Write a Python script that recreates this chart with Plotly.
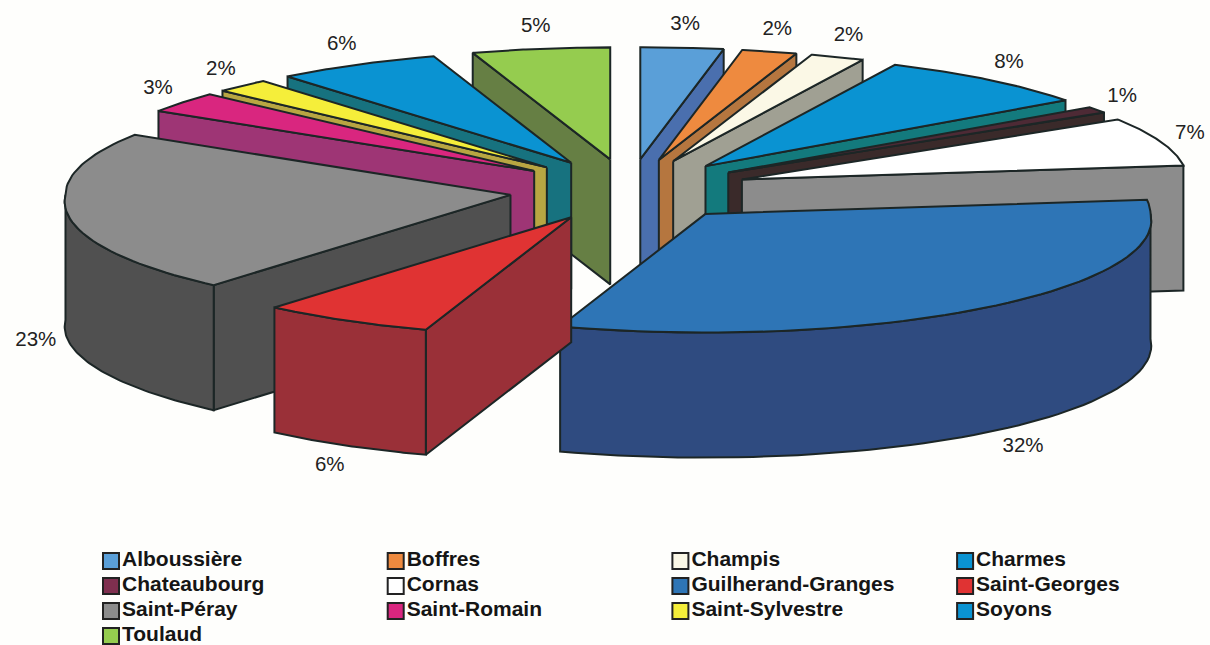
import numpy as np
import plotly.graph_objects as go

# ---------- data ----------
communes = ["Alboussière", "Boffres", "Champis", "Charmes", "Chateaubourg", "Cornas",
            "Guilherand-Granges", "Saint-Georges", "Saint-Péray", "Saint-Romain",
            "Saint-Sylvestre", "Soyons", "Toulaud"]
percent = [3, 2, 2, 8, 1, 7, 32, 6, 23, 3, 2, 6, 5]
legend_colors = ["#5a9fd8", "#ee8a3f", "#fbf8e6", "#0a93d2", "#7f2f4f", "#ffffff",
                 "#2e75b6", "#e03333", "#8c8c8c", "#d9267f", "#f5ee3a", "#0a93d2", "#95cc4f"]
top_colors = ["#5a9fd8", "#ee8a3f", "#fbf8e6", "#0a93d2", "#4d2a35", "#ffffff",
              "#2e75b6", "#e03333", "#8c8c8c", "#d9267f", "#f5ee3a", "#0a93d2", "#95cc4f"]
side_colors = ["#4a6fae", "#b5763f", "#a0a093", "#137a7d", "#3a2a2a", "#8c8c8c",
               "#2f4b80", "#9a3038", "#505050", "#9e3575", "#b8a642", "#17727f", "#667f44"]

# ---------- pie geometry (pixel-scaled hidden axes) ----------
CX, CY = 629, 190
RX, RY = 445, 112
EX, EY = 120, 31
DEPTH = 125
PERSP = 0.06
OUTLINE = "#1c2626"

cum = np.cumsum([0] + percent) / sum(percent) * 2 * np.pi
fig = go.Figure()


def poly(xs, ys, fill):
    fig.add_trace(go.Scatter(x=list(xs) + [xs[0]], y=list(ys) + [ys[0]], mode="lines",
                             fill="toself", fillcolor=fill,
                             line=dict(color=OUTLINE, width=2),
                             hoverinfo="skip", showlegend=False))


slices = []
for i, p in enumerate(percent):
    a, b = cum[i], cum[i + 1]
    m = (a + b) / 2
    ox = CX + EX * np.sin(m)
    oy = CY - EY * np.cos(m)
    slices.append((oy, i, a, b, m, ox))

lab_x, lab_y, lab_t = [], [], []
for oy, i, a, b, m, ox in sorted(slices, key=lambda s: s[0]):
    def edge(t, ox=ox, oy=oy):
        s = 1 + PERSP * np.maximum(0, -np.cos(t))
        return ox + RX * s * np.sin(t), oy - RY * s * np.cos(t)
    # radial side faces
    if np.sin(a) < 0:
        ex, ey = edge(a)
        poly([ox, ex, ex, ox], [oy, ey, ey + DEPTH, oy + DEPTH], side_colors[i])
    if np.sin(b) > 0:
        ex, ey = edge(b)
        poly([ox, ex, ex, ox], [oy, ey, ey + DEPTH, oy + DEPTH], side_colors[i])
    # outer curved side
    lo, hi = max(a, np.pi / 2), min(b, 3 * np.pi / 2)
    if hi > lo:
        t = np.linspace(lo, hi, 60)
        ax, ay = edge(t)
        poly(np.r_[ax, ax[::-1]], np.r_[ay, ay[::-1] + DEPTH], side_colors[i])
    # top face
    t = np.linspace(a, b, 60)
    ax, ay = edge(t)
    poly(np.r_[ox, ax], np.r_[oy, ay], top_colors[i])
    # percent label
    front = DEPTH if np.pi / 2 < m < 3 * np.pi / 2 else 0
    s = 1 + PERSP * max(0, -np.cos(m))
    lab_x.append(ox + 1.07 * RX * s * np.sin(m))
    lab_y.append(oy - 1.2 * RY * s * np.cos(m) + front)
    lab_t.append(f"{percent[i]}%")

fig.add_trace(go.Scatter(x=lab_x, y=lab_y, text=lab_t, mode="text",
                         textfont=dict(family="Liberation Sans", size=20.5, color="#222222"),
                         hoverinfo="skip", showlegend=False))

# ---------- legend drawn on the same axes ----------
COLS, X0, DX, Y0, DY = 4, 111, 284.7, 561, 25
for i, name in enumerate(communes):
    r, c = divmod(i, COLS)
    fig.add_trace(go.Scatter(x=[X0 + c * DX], y=[Y0 + r * DY], text=[name],
                             mode="markers+text", textposition="middle right",
                             marker=dict(symbol="square", size=16, color=legend_colors[i],
                                         line=dict(color="#222222", width=2)),
                             textfont=dict(family="Liberation Sans", size=21, weight="bold",
                                           color="#151515"),
                             name=name, hoverinfo="skip", showlegend=False))

fig.update_layout(width=1210, height=645, margin=dict(l=0, r=0, t=0, b=0),
                  paper_bgcolor="#fefefc", plot_bgcolor="#fefefc",
                  xaxis=dict(range=[0, 1210], visible=False, fixedrange=True),
                  yaxis=dict(range=[645, 0], visible=False, fixedrange=True))
fig.write_html("out.html", config={"displayModeBar": False},
               post_script="document.body.style.margin='0';document.body.style.background='#fefefc';")
